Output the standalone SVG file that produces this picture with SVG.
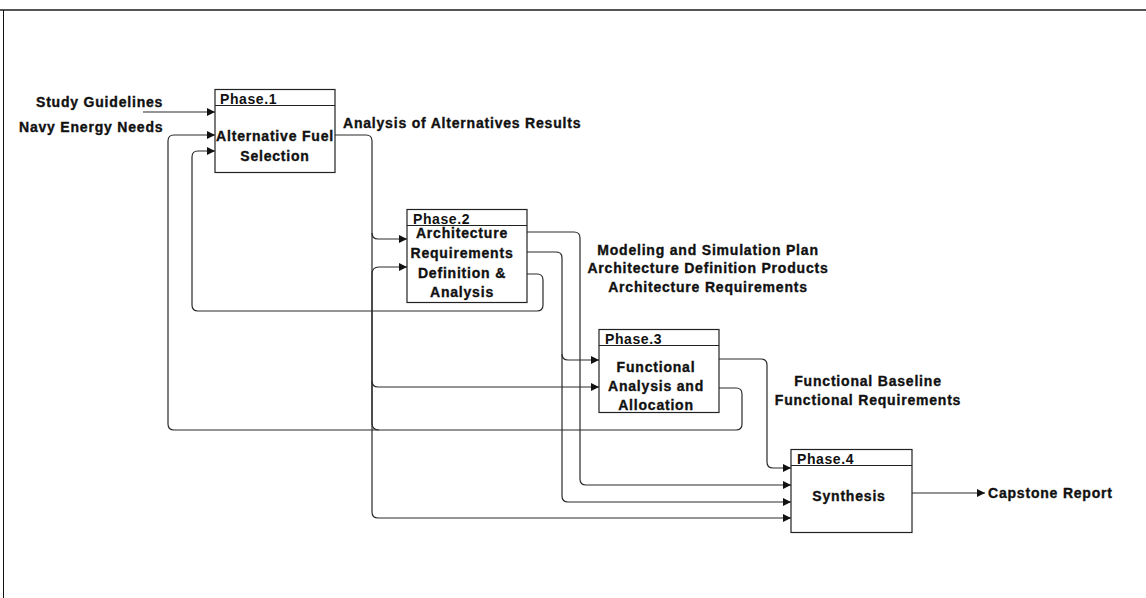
<svg xmlns="http://www.w3.org/2000/svg" width="1146" height="598" viewBox="0 0 1146 598">
  <style>
    .box { fill: #ffffff; stroke: #222222; stroke-width: 1.2; }
    .div { stroke: #222222; stroke-width: 1.2; }
    .wire { fill: none; stroke: #2a2a2a; stroke-width: 1.2; }
    .t { font-family: "Liberation Sans", Arial, sans-serif; font-size: 14px; font-weight: bold; letter-spacing: 0.8px; fill: #111111; stroke: #111111; stroke-width: 0.35px; }
    .ph { font-family: "Liberation Sans", Arial, sans-serif; font-size: 14px; font-weight: bold; letter-spacing: 0.6px; fill: #111111; }
    .c { text-anchor: middle; }
  </style>
  <defs>
    <marker id="arrow" markerUnits="userSpaceOnUse" markerWidth="9" markerHeight="9" refX="8" refY="4" orient="auto">
      <path d="M0,0 L8,4 L0,8 z" fill="#111111"/>
    </marker>
  </defs>

  <rect x="0" y="0" width="1146" height="598" fill="#ffffff"/>
  <!-- frame -->
  <line x1="0" y1="10" x2="1146" y2="10" stroke="#555555" stroke-width="2"/>
  <line x1="3.5" y1="10" x2="3.5" y2="598" stroke="#111111" stroke-width="1"/>

  <!-- connectors -->
  <g id="connectors">
    <!-- Study Guidelines -->
    <path class="wire" d="M143,112 H215" marker-end="url(#arrow)"/>
    <!-- Phase 1 output: Analysis of Alternatives Results -->
    <path class="wire" d="M335,135 H366 Q372,135 372,141 V512 Q372,518 378,518 H791" marker-end="url(#arrow)"/>
    <path class="wire" d="M372,233 Q372,239 378,239 H407" marker-end="url(#arrow)"/>
    <path class="wire" d="M372,381 Q372,387 378,387 H599" marker-end="url(#arrow)"/>
    <!-- Phase 2 outputs -->
    <path class="wire" d="M527,232 H574 Q580,232 580,238 V479 Q580,485 586,485 H791" marker-end="url(#arrow)"/>
    <path class="wire" d="M527,252 H556 Q562,252 562,258 V496 Q562,502 568,502 H791" marker-end="url(#arrow)"/>
    <path class="wire" d="M562,354 Q562,360 568,360 H599" marker-end="url(#arrow)"/>
    <!-- Phase 2 feedback to Phase 1 -->
    <path class="wire" d="M527,274 H537 Q543,274 543,280 V305 Q543,311 537,311 H198 Q192,311 192,305 V157 Q192,151 198,151 H215" marker-end="url(#arrow)"/>
    <!-- Phase 3 outputs -->
    <path class="wire" d="M719,359 H761 Q767,359 767,365 V462 Q767,468 773,468 H791" marker-end="url(#arrow)"/>
    <!-- Phase 3 feedback to Phase 1 and Phase 2 -->
    <path class="wire" d="M719,388 H736 Q742,388 742,394 V424 Q742,430 736,430 H174 Q168,430 168,424 V141 Q168,135 174,135 H215" marker-end="url(#arrow)"/>
    <path class="wire" d="M379,430 Q372,430 372,423 V274 Q372,267 379,267 H407" marker-end="url(#arrow)"/>
    <!-- Phase 4 output -->
    <path class="wire" d="M912,493 H985" marker-end="url(#arrow)"/>
  </g>

  <g id="phase1">
    <rect class="box" x="215" y="89.5" width="120" height="83"/>
    <line class="div" x1="215" y1="105.5" x2="335" y2="105.5"/>
    <text class="ph" x="220" y="104">Phase.1</text>
    <text class="t c" x="275" y="141">Alternative Fuel</text>
    <text class="t c" x="275" y="161">Selection</text>
  </g>

  <g id="phase2">
    <rect class="box" x="407" y="209.5" width="120" height="93"/>
    <line class="div" x1="407" y1="225.5" x2="527" y2="225.5"/>
    <text class="ph" x="413" y="224">Phase.2</text>
    <text class="t c" x="462" y="238">Architecture</text>
    <text class="t c" x="462" y="258">Requirements</text>
    <text class="t c" x="462" y="278">Definition &amp;</text>
    <text class="t c" x="462" y="297">Analysis</text>
  </g>

  <g id="phase3">
    <rect class="box" x="599" y="329.5" width="120" height="83"/>
    <line class="div" x1="599" y1="345.5" x2="719" y2="345.5"/>
    <text class="ph" x="605" y="344">Phase.3</text>
    <text class="t c" x="656" y="372">Functional</text>
    <text class="t c" x="656" y="391">Analysis and</text>
    <text class="t c" x="656" y="410">Allocation</text>
  </g>

  <g id="phase4">
    <rect class="box" x="791" y="449.5" width="121" height="83"/>
    <line class="div" x1="791" y1="465.5" x2="912" y2="465.5"/>
    <text class="ph" x="797" y="464">Phase.4</text>
    <text class="t c" x="849" y="501">Synthesis</text>
  </g>

  <g id="labels">
    <text class="t" x="36" y="107">Study Guidelines</text>
    <text class="t" x="19" y="132">Navy Energy Needs</text>
    <text class="t" x="343" y="128">Analysis of Alternatives Results</text>
    <text class="t c" x="708" y="255">Modeling and Simulation Plan</text>
    <text class="t c" x="708" y="273">Architecture Definition Products</text>
    <text class="t c" x="708" y="292">Architecture Requirements</text>
    <text class="t c" x="868" y="386">Functional Baseline</text>
    <text class="t c" x="868" y="405">Functional Requirements</text>
    <text class="t" x="988" y="498">Capstone Report</text>
  </g>
</svg>
